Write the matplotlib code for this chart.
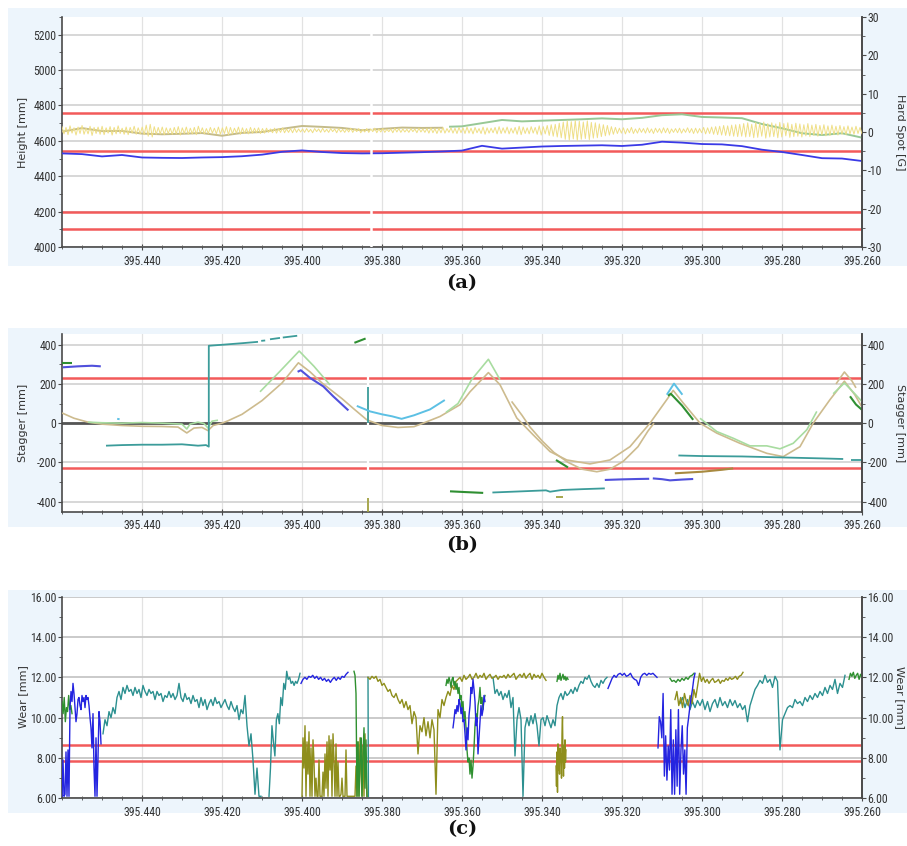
import numpy as np
import matplotlib.pyplot as plt
from matplotlib import font_manager
from matplotlib.patches import Rectangle
from matplotlib.ticker import MultipleLocator, FixedLocator

# pick a narrow face for tick numbers, like the reference
names = {f.name for f in font_manager.fontManager.ttflist}
TICK_FONT, TICK_STRETCH = 'DejaVu Sans', 'normal'
for cand in ['Liberation Sans Narrow', 'Roboto Condensed', 'Open Sans Condensed', 'Noto Sans Condensed',
             'DejaVu Sans Condensed']:
    if cand in names:
        TICK_FONT = cand
        break
else:
    if any(f.name == 'DejaVu Sans' and f.stretch == 'condensed' for f in font_manager.fontManager.ttflist):
        TICK_STRETCH = 'condensed'
plt.rcParams['font.family'] = TICK_FONT
plt.rcParams['font.stretch'] = TICK_STRETCH

# chainage [km], axis runs right to left
KM_LEFT, KM_RIGHT = 395.460, 395.260
X_TICKS = [395.440, 395.420, 395.400, 395.380, 395.360, 395.340, 395.320, 395.300, 395.280, 395.260]
GAP_KM = 395.3828

# ---------------- (a) height / hard spot ----------------
KM_A = [395.460, 395.455, 395.450, 395.445, 395.440, 395.435, 395.430, 395.425, 395.420, 395.415,
        395.410, 395.405, 395.400, 395.395, 395.390, 395.385, 395.380, 395.375, 395.370, 395.365,
        395.360, 395.355, 395.350, 395.345, 395.340, 395.335, 395.330, 395.325, 395.320, 395.315,
        395.310, 395.305, 395.300, 395.295, 395.290, 395.285, 395.280, 395.275, 395.270, 395.265,
        395.260]
HEIGHT_BLUE = [4529, 4525, 4512, 4520, 4506, 4504, 4503, 4506, 4508, 4513,
               4522, 4538, 4546, 4537, 4531, 4529, 4530, 4533, 4536, 4540,
               4545, 4572, 4556, 4562, 4568, 4571, 4573, 4575, 4571, 4578,
               4595, 4590, 4582, 4580, 4570, 4550, 4537, 4520, 4502, 4500,
               4486]
KM_A_OLIVE = KM_A[:20]
HEIGHT_OLIVE = [4652, 4672, 4655, 4656, 4641, 4637, 4640, 4644, 4629, 4645,
                4650, 4668, 4684, 4679, 4673, 4660, 4668, 4675, 4673, 4674]
KM_A_GREEN = [395.363] + KM_A[20:]
HEIGHT_GREEN = [4680, 4682, 4700, 4718, 4710, 4714, 4718, 4722, 4727, 4722, 4730,
                4745, 4750, 4735, 4732, 4728, 4695, 4671, 4643, 4633, 4643, 4618]
HARD_SPOT = [
    1.4, -0.5, 1.2, -0.7, 1.6, -0.3, 1.1, -0.8, 1.3, -0.4, 1.7, -0.6, 1.0, -0.5, 1.5, -0.9, 1.2, -0.4, 1.3, -0.6,
    1.5, -0.7, 1.1, -0.3, 1.4, -0.8, 1.2, -0.5, 1.6, -0.4, 1.0, -0.6, 1.3, -0.7, 1.2, -0.3, 1.5, -0.6, 1.1, -0.5,
    1.3, -0.7, 1.8, -1.1, 2.0, -1.3, 1.4, -0.6, 1.2, -0.5, 1.3, -0.7, 1.1, -0.4, 1.0, -0.6, 1.2, -0.5, 1.4, -0.8,
    1.1, -0.4, 1.3, -0.6, 1.0, -0.5, 1.2, -0.7, 1.5, -0.3, 1.1, -0.5, 0.9, -0.4, 1.2, -0.3, 1.0, -0.5, 1.3, -0.6,
    1.1, -0.4, 1.4, -0.7, 1.2, -0.5, 1.0, -0.3, 1.3, -0.6, 1.1, -0.4, 0.9, -0.5, 1.2, -0.3, 1.0, -0.2, 1.1, -0.4,
    0.9, -0.3, 1.0, -0.1, 0.8, -0.2, 1.0, -0.3, 0.9, -0.1, 1.1, -0.2, 0.8, -0.1, 0.9, -0.2, 1.0, -0.1, 0.8, 0.0,
    0.8, -0.1, 0.9, 0.0, 0.7, -0.2, 0.9, 0.1, 0.8, -0.1, 1.0, 0.0, 0.7, -0.1, 0.9, 0.1, 0.8, -0.2, 0.9, 0.0,
    0.7, -0.1, 0.8, 0.0, 1.0, -0.1, 0.8, 0.1, 0.9, -0.2, 0.7, 0.0, 0.9, -0.1, 0.8, 0.1, 1.0, -0.2, 0.8, 0.0,
    0.9, -0.1, 0.7, 0.1, 0.8, -0.2, 1.0, 0.0, 0.9, -0.1, 0.8, 0.0, 0.7, -0.1, 0.9, 0.1, 0.8, -0.2, 1.0, 0.0,
    0.8, -0.1, 0.9, -0.3, 1.1, -0.2, 0.9, -0.4, 1.0, -0.2, 1.2, -0.3, 0.9, -0.1, 1.1, -0.3, 1.0, -0.4, 1.2, -0.2,
    1.1, -0.4, 1.3, -0.3, 1.0, -0.5, 1.2, -0.2, 0.9, -0.4, 1.3, -0.6, 1.1, -0.3, 1.0, -0.2, 1.2, -0.5, 1.4, -0.4,
    1.1, -0.3, 1.3, -0.5, 1.0, -0.3, 1.2, -0.6, 1.5, -0.7, 1.3, -0.4, 1.1, -0.5, 1.4, -0.3, 1.2, -0.6, 1.6, -0.8,
    1.4, -0.5, 1.7, -0.9, 1.9, -1.1, 2.0, -1.3, 2.3, -1.5,
    2.6, -1.9, 2.9, -2.1, 2.7, -1.8, 3.0, -2.2, 2.8, -1.9, 2.6, -1.7, 2.9, -2.0, 2.5, -1.6, 2.4, -1.5, 2.1, -1.2,
    1.9, -1.0, 1.7, -0.8, 1.4, -0.6,
    1.2, -0.4, 1.0, -0.3, 1.1, -0.5, 0.9, -0.2, 1.2, -0.4, 0.8, -0.3, 1.0, -0.1, 0.9, -0.3, 1.1, -0.2, 0.8, -0.4,
    1.0, -0.1, 0.9, -0.3, 1.1, -0.2, 1.0, -0.4, 0.8, -0.1, 0.9, -0.2, 1.0, -0.3, 0.8, -0.1, 1.1, -0.2, 0.9, -0.4,
    1.0, -0.3, 0.9, -0.2, 1.2, -0.5, 1.1, -0.4, 1.3, -0.6, 1.4, -0.7, 1.5, -0.8, 1.7, -0.9, 1.6, -1.0, 1.8, -1.1,
    1.9, -1.2, 2.0, -1.1,
    2.2, -1.3, 2.4, -1.2, 2.0, -1.5, 2.5, -1.4, 2.3, -1.1, 2.6, -1.6, 2.2, -1.3, 2.4, -1.2, 2.1, -1.5, 2.5, -1.3,
    2.2, -1.0, 2.4, -1.4, 2.0, -1.2, 2.3, -1.1, 2.1, -1.3, 1.9, -1.0, 2.2, -1.2, 1.8, -0.9, 2.0, -1.1, 1.7, -0.8,
    1.9, -1.0, 1.6, -0.9, 1.8, -0.7, 1.5, -0.8, 1.7, -0.6, 1.4, -0.7, 1.6, -0.5, 1.3, -0.6, 1.5, -0.4, 1.2, -0.5]
LIMITS_A = [4760, 4540, 4200, 4100]

# ---------------- (b) stagger, fragments of (km, mm) ----------------
STAGGER_TAN = [[(395.4600, 52), (395.4570, 25), (395.4535, 5), (395.4500, -5), (395.4450, -12), (395.4400, -16),
                (395.4350, -17), (395.4310, -20), (395.4288, -50), (395.4270, -25), (395.4250, -22), (395.4235, -38),
                (395.4222, -12), (395.4200, 0), (395.4185, 12), (395.4150, 45), (395.4100, 115), (395.4050, 205),
                (395.4009, 308), (395.3980, 262), (395.3950, 205), (395.3900, 125), (395.3870, 72), (395.3838, 17),
                (395.3800, -12), (395.3760, -22), (395.3720, -18), (395.3697, 0), (395.3655, 34), (395.3605, 94),
                (395.3580, 160), (395.3534, 258), (395.3505, 196), (395.3463, 26), (395.3422, -60), (395.3380, -145),
                (395.3338, -188), (395.3280, -208), (395.3230, -188), (395.3180, -120), (395.3130, 0), (395.3088, 120),
                (395.3072, 167), (395.3047, 103), (395.3005, 0), (395.2963, -51), (395.2905, -103), (395.2838, -154),
                (395.2797, -171), (395.2755, -120), (395.2722, 0), (395.2680, 120), (395.2644, 214), (395.2618, 145),
                (395.2600, 82)],
               [(395.3476, 111), (395.3450, 40), (395.3430, -20), (395.3400, -90), (395.3370, -150), (395.3335, -200),
                (395.3300, -235), (395.3263, -248), (395.3230, -235), (395.3197, -195), (395.3160, -120),
                (395.3135, -40), (395.3120, 0)],
               [(395.2665, 200), (395.2644, 261), (395.2625, 215), (395.2615, 180)]]
STAGGER_LIGHT = [[(395.4535, 5), (395.4500, 2), (395.4450, 0), (395.4400, 3), (395.4350, 0), (395.4300, -5),
                  (395.4288, -30), (395.4280, -5), (395.4260, 5), (395.4245, -2), (395.4235, -25), (395.4225, 10),
                  (395.4210, 15)],
                 [(395.4105, 160), (395.4055, 265), (395.4007, 368), (395.3970, 290), (395.3930, 195)],
                 [(395.3640, 55), (395.3610, 100), (395.3576, 222), (395.3534, 326), (395.3505, 222)],
                 [(395.3005, 25), (395.2963, -43), (395.2922, -77), (395.2880, -116), (395.2838, -116),
                  (395.2805, -131), (395.2772, -103), (395.2738, -34), (395.2713, 60)],
                 [(395.2672, 150), (395.2644, 205), (395.2618, 150), (395.2600, 110)]]
STAGGER_TEAL = [[(395.4490, -115), (395.4450, -112), (395.4400, -110), (395.4350, -110), (395.4300, -108),
                 (395.4260, -115), (395.4240, -112), (395.4233, -120), (395.4233, 395), (395.4200, 400),
                 (395.4150, 408), (395.4110, 415)],
                [(395.4102, 420), (395.4092, 422)], [(395.4080, 428), (395.4055, 435)],
                [(395.4048, 437), (395.4012, 446)],
                [(395.3834, 0), (395.3834, 186)],
                [(395.3524, -354), (395.3450, -348), (395.3390, -343), (395.3380, -350), (395.3350, -341),
                 (395.3300, -337), (395.3243, -333)],
                [(395.3059, -165), (395.3000, -168), (395.2900, -170), (395.2800, -175), (395.2700, -180),
                 (395.2647, -183)],
                [(395.2628, -188), (395.2600, -188)]]
STAGGER_DKGREEN = [[(395.4600, 308), (395.4575, 308)], [(395.3869, 410), (395.3841, 432)],
                   [(395.3630, -348), (395.3590, -352), (395.3547, -356)],
                   [(395.3365, -188), (395.3335, -226)],
                   [(395.3085, 140), (395.3078, 150), (395.3050, 90), (395.3022, 17)],
                   [(395.2630, 137), (395.2615, 95), (395.2600, 68)]]
STAGGER_BLUE = [[(395.4598, 285), (395.4560, 290), (395.4525, 293), (395.4503, 290)],
                [(395.4011, 262), (395.4003, 270), (395.3980, 231), (395.3947, 188), (395.3922, 137),
                 (395.3884, 65)],
                [(395.3243, -290), (395.3200, -287), (395.3160, -285), (395.3132, -284)],
                [(395.3123, -282), (395.3100, -286), (395.3080, -292), (395.3050, -288), (395.3022, -285)]]
STAGGER_CYAN = [[(395.4462, 22), (395.4456, 20)],
                [(395.3863, 88), (395.3830, 60), (395.3800, 45), (395.3775, 35), (395.3751, 22), (395.3720, 40),
                 (395.3680, 70), (395.3643, 118)],
                [(395.3088, 145), (395.3070, 202), (395.3049, 145)]]
STAGGER_OLIVE = [[(395.3834, -380), (395.3834, -452)], [(395.3365, -379), (395.3347, -379)]]
STAGGER_BROWN = [[(395.3068, -256), (395.3000, -248), (395.2950, -238), (395.2922, -231)]]
LIMITS_B = [230, -230]

# ---------------- (c) wear, segments (km_start, km_end, samples) ----------------
WEAR_GREEN = [(395.4600, 395.4575, [10.8, 10.2, 11.0, 9.8, 10.5, 10.3, 11.1, 10.4, 10.6, 10.2]),
              (395.3870, 395.38375, [12.3, 12.1, 11.2, 6.1, 8.8, 6.1, 7.9, 9.0, 6.1, 8.2, 9.5, 6.5, 8.9, 6.1]),
              (395.3640, 395.35425, [11.6, 11.9, 11.7, 12.0, 11.8, 11.5, 11.9, 12.0, 11.6, 11.8, 11.4, 11.7, 11.2,
                                     11.5, 10.9, 11.1, 10.4, 10.8, 9.9, 10.3, 9.5, 8.4, 7.8, 8.0, 7.2, 7.9, 7.0,
                                     7.6, 8.5, 9.6, 10.2, 9.8, 10.6, 10.9, 11.5, 10.7, 11.0, 10.4, 10.9, 11.1]),
              (395.33625, 395.3335, [11.8, 12.1, 11.9, 12.2, 11.85, 12.0, 12.15, 11.9, 12.05, 11.85, 12.0, 11.9]),
              (395.3080, 395.3020, [11.95, 11.8, 11.85, 11.75, 11.9, 11.8, 11.95, 11.85, 12.0, 11.9, 12.05, 12.1,
                                    12.2]),
              (395.26325, 395.2600, [11.9, 12.2, 12.05, 12.25, 11.95, 12.1, 12.2, 11.9, 12.15, 12.0])]
WEAR_BLUE = [(395.4600, 395.45025, [6.1, 7.9, 6.1, 6.2, 8.3, 6.1, 8.4, 6.1, 10.5, 11.3, 10.8, 11.7, 11.2, 10.5,
                                    9.8, 10.2, 10.9, 11.0, 10.6, 10.4, 11.1, 10.8, 11.0, 10.5, 11.1, 10.9, 11.0,
                                    10.6, 10.0, 9.5, 8.5, 10.2, 7.5, 6.1, 9.0, 6.1, 8.0, 10.3, 9.8, 8.7]),
             (395.40025, 395.3885, [11.7, 11.9, 12.0, 11.9, 12.05, 12.0, 12.1, 11.95, 12.05, 11.9, 12.0, 11.85,
                                    11.95, 11.8, 11.9, 11.75, 11.9, 12.0, 11.85, 12.0, 11.9, 12.05, 12.0, 12.15,
                                    12.25]),
             (395.36225, 395.35425, [9.5, 9.9, 10.4, 10.2, 10.6, 10.3, 10.9, 10.7, 10.2, 10.5, 9.8, 9.9, 9.2, 8.4,
                                     9.5, 8.9, 10.1, 10.6, 11.5, 11.2, 11.9, 11.4, 10.8, 9.6, 10.0, 8.2, 9.0, 9.8,
                                     10.6, 10.1, 10.4, 11.1, 10.8]),
             (395.3235, 395.31125, [11.45, 11.7, 11.95, 12.1, 12.0, 12.15, 12.2, 12.1, 12.2, 12.05, 12.1, 12.2,
                                    12.0, 11.9, 11.85, 11.6, 12.0, 12.15, 12.2, 12.1, 12.2, 12.15, 12.2, 12.1, 12.0]),
             (395.3110, 395.30175, [8.5, 10.05, 9.8, 9.0, 11.2, 7.1, 9.1, 6.9, 8.6, 7.4, 10.4, 6.2, 8.9, 6.2, 9.4,
                                    6.6, 10.4, 6.2, 8.4, 9.6, 7.2, 8.4, 6.2, 9.5, 10.0, 10.55, 11.0, 11.4, 11.9,
                                    12.2])]
WEAR_TEAL = [(395.44975, 395.41025, [9.2, 9.9, 9.6, 10.3, 10.0, 10.5, 10.2, 11.0, 11.3, 10.9, 11.5, 11.2, 11.6,
                                     11.3, 11.4, 11.1, 11.5, 11.2, 11.4, 11.0, 11.6, 11.3, 11.1, 11.4, 11.2, 11.3,
                                     10.9, 11.3, 11.1, 11.2, 10.8, 11.1, 11.0, 11.3, 11.0, 11.2, 10.9, 11.1, 11.7,
                                     11.0, 10.8, 11.2, 10.9, 11.0, 10.7, 11.1, 10.8, 10.9, 10.5, 11.0, 10.6, 10.9,
                                     10.4, 10.7, 10.9, 10.6, 11.0, 10.7, 10.8, 10.5, 10.7, 10.9, 10.6, 10.4, 10.8,
                                     10.5, 10.3, 10.6, 9.9, 10.4, 10.2, 11.1, 9.6, 8.6, 9.2, 7.9, 6.2, 7.5, 6.1,
                                     6.1]),
             (395.40825, 395.4005, [6.1, 7.5, 9.6, 8.8, 8.1, 9.9, 10.2, 9.7, 11.0, 10.6, 11.7, 11.4, 12.3, 11.9,
                                    12.0, 11.7, 11.8, 11.6, 11.8, 11.7, 11.9, 12.2]),
             (395.3835, 395.3834, [12.0, 6.1]),
             (395.35225, 395.32375, [12.0, 11.2, 11.4, 11.1, 11.3, 10.9, 11.2, 11.0, 11.35, 10.5, 11.0, 8.1, 9.9,
                                     10.5, 9.9, 6.1, 9.5, 10.0, 9.6, 10.1, 9.7, 10.2, 9.6, 8.6, 9.9, 10.0, 9.6,
                                     10.1, 9.8, 9.5, 9.9, 9.6, 10.6, 11.0, 11.2, 10.9, 11.3, 11.1, 11.2, 11.4, 11.2,
                                     11.5, 11.3, 11.6, 11.8, 11.7, 12.0, 11.9, 12.1, 11.8, 11.6, 11.5, 11.7, 11.5,
                                     11.85, 11.7, 11.9, 12.0]),
             (395.3055, 395.26425, [10.7, 11.0, 10.5, 10.9, 10.4, 10.8, 10.5, 10.85, 10.6, 10.9, 10.4, 10.8, 10.3,
                                    10.7, 10.9, 10.5, 11.0, 10.6, 10.8, 10.5, 10.9, 10.6, 10.85, 10.5, 10.7, 10.4,
                                    10.6, 9.8, 10.6, 11.0, 11.4, 11.6, 11.85, 11.7, 12.1, 11.75, 11.9, 11.5, 12.05,
                                    11.8, 8.4, 9.9, 10.2, 10.5, 10.6, 10.5, 10.9, 10.7, 10.8, 10.6, 11.0, 10.8,
                                    11.1, 10.9, 11.2, 11.0, 11.3, 11.1, 11.5, 11.2, 11.6, 11.4, 11.9, 11.2, 11.7,
                                    11.5, 12.1])]
WEAR_OLIVE = [(395.4000, 395.38375, [6.1, 9.0, 7.5, 9.6, 6.1, 8.8, 7.2, 9.3, 6.1, 8.5, 6.1, 8.9, 7.8, 6.1, 7.0,
                                     6.1, 6.1, 7.9, 6.1, 6.1, 6.1, 7.3, 6.1, 8.2, 6.5, 8.8, 6.1, 9.1, 7.4, 8.9,
                                     6.1, 9.2, 7.9, 6.1, 8.7, 6.1, 7.8, 6.1, 6.1, 6.2, 7.0, 6.1, 6.1, 6.1, 8.4,
                                     6.1, 6.1, 6.1, 6.1, 6.1, 6.1, 6.1, 6.1, 6.1, 7.6, 6.1, 8.8, 6.1, 9.0, 7.2,
                                     6.1, 8.6, 6.1, 9.2, 7.0, 6.1]),
              (395.3835, 395.3390, [12.0, 11.9, 12.05, 11.95, 12.05, 11.8, 11.9, 11.6, 11.7, 11.5, 11.3, 11.4,
                                    11.1, 11.0, 11.2, 10.9, 10.7, 10.9, 10.5, 10.8, 10.4, 10.6, 9.7, 10.3, 10.0,
                                    8.2, 9.6, 9.3, 10.0, 9.1, 9.8, 9.0, 9.9, 9.4, 6.2, 10.4, 10.0, 10.9, 10.6,
                                    11.0, 11.3, 11.1, 11.6, 11.4, 11.8, 11.9, 12.0, 11.8, 12.1, 11.9, 12.0, 12.15,
                                    11.9, 12.0, 12.2, 11.95, 12.1, 12.0, 12.2, 11.9, 12.05, 12.15, 11.95, 12.0,
                                    12.1, 11.9, 12.05, 12.0, 12.1, 11.95, 12.15, 12.0, 12.1, 12.2, 11.9, 12.05,
                                    12.15, 12.0, 12.2, 11.95, 12.1, 12.2, 11.9, 12.15, 12.0, 12.1, 11.95, 12.2,
                                    12.0, 11.85]),
              (395.3365, 395.3340, [7.6, 6.6, 8.3, 6.3, 8.7, 7.4, 8.0, 7.2, 8.5, 7.9, 8.2, 7.0, 9.2, 10.05, 8.0,
                                    7.1, 8.6, 7.5, 8.9, 7.8, 8.4]),
              (395.30675, 395.28975, [10.9, 11.3, 10.6, 11.0, 10.5, 11.2, 10.8, 10.6, 11.1, 10.7, 11.4, 11.0,
                                      11.6, 12.2, 11.8, 12.0, 11.75, 11.9, 11.7, 11.85, 11.95, 11.75, 11.8, 11.9,
                                      11.7, 11.85, 11.8, 11.95, 11.85, 12.0, 11.9, 11.95, 12.05, 11.9, 12.05,
                                      12.1, 12.25])]
LIMITS_C = [8.65, 7.85]

# colours
RED = '#f25a5a'
BG = '#edf5fc'
GRID = '#d4d4d4'
AX_COL = '#4a4a4a'

fig = plt.figure(figsize=(9.07, 8.46), dpi=100)
W, H = 907, 846


def frac(x0, y0, x1, y1):
    return [x0 / W, 1 - y1 / H, (x1 - x0) / W, (y1 - y0) / H]


for y0, y1 in [(8, 266), (328, 527), (590, 813)]:
    r = frac(8, y0, 907, y1)
    fig.add_artist(Rectangle((r[0], r[1]), r[2], r[3], transform=fig.transFigure,
                             facecolor=BG, edgecolor='none', zorder=-10))


def style(ax, ylim, major, minor, fmt, label, rlabel, ypix):
    ax.set_xlim(KM_LEFT, KM_RIGHT)
    ax.set_ylim(*ylim)
    ax.xaxis.set_major_locator(FixedLocator(X_TICKS))
    ax.xaxis.set_minor_locator(MultipleLocator(0.005))
    ax.set_xticklabels([f'{t:.3f}' for t in X_TICKS])
    ax.yaxis.set_major_locator(MultipleLocator(major))
    ax.yaxis.set_minor_locator(MultipleLocator(minor))
    ax.yaxis.set_major_formatter(plt.FuncFormatter(lambda v, p: fmt.format(v)))
    ax.grid(True, axis='y', color=GRID, lw=1.3, zorder=0)
    ax.grid(True, axis='x', color='#e2e2e2', lw=0.9, zorder=0)
    for s in ['left', 'bottom', 'right']:
        ax.spines[s].set_color(AX_COL)
        ax.spines[s].set_linewidth(1.2)
    ax.spines['top'].set_visible(False)
    ax.tick_params(axis='x', which='both', direction='inout', colors=AX_COL, labelcolor='#333333',
                   labelsize=8.5, pad=3)
    ax.tick_params(axis='x', which='major', length=5)
    ax.tick_params(axis='x', which='minor', length=3)
    ax.tick_params(axis='y', which='major', direction='out', length=3, colors=AX_COL,
                   labelcolor='#333333', labelsize=8.5, pad=1)
    ax.tick_params(axis='y', which='minor', direction='out', length=2, colors=AX_COL)
    yc = 1 - ypix / H
    fig.text(23 / W, yc, label, rotation=90, ha='center', va='center', fontsize=8, color='#333333',
             family='DejaVu Sans', stretch='normal')
    fig.text(900 / W, yc, rlabel, rotation=270, ha='center', va='center', fontsize=8, color='#333333',
             family='DejaVu Sans', stretch='normal')


def right_axis(ax, ylim, major, minor, fmt):
    ar = ax.twinx()
    ar.set_ylim(*ylim)
    ar.yaxis.set_major_locator(MultipleLocator(major))
    ar.yaxis.set_minor_locator(MultipleLocator(minor))
    ar.yaxis.set_major_formatter(plt.FuncFormatter(lambda v, p: fmt.format(v)))
    for s in ['top', 'left', 'bottom']:
        ar.spines[s].set_visible(False)
    ar.spines['right'].set_color(AX_COL)
    ar.spines['right'].set_linewidth(1.2)
    ar.tick_params(axis='y', which='major', direction='out', length=3, colors=AX_COL,
                   labelcolor='#333333', labelsize=8.5, pad=1)
    ar.tick_params(axis='y', which='minor', direction='out', length=2, colors=AX_COL)
    return ar


def fragments(ax, frags, color, lw=1.2, alpha=1.0, z=3):
    for f in frags:
        k, v = zip(*f)
        ax.plot(k, v, color=color, lw=lw, alpha=alpha, zorder=z, solid_capstyle='butt')


def segments(ax, segs, color, lw=1.0, z=3):
    for k0, k1, vals in segs:
        ax.plot(np.linspace(k0, k1, len(vals)), vals, color=color, lw=lw, zorder=z)


# ---- (a)
ax_a = fig.add_axes(frac(62, 17, 862, 247))
style(ax_a, (4000, 5300), 200, 100, '{:.0f}', 'Height [mm]', 'Hard Spot [G]', 132)
ar_a = right_axis(ax_a, (-30, 30), 10, 5, '{:.0f}')
for lim in LIMITS_A:
    ax_a.axhline(lim, color=RED, lw=1.8, zorder=2)
ax_a.plot(KM_A_OLIVE, HEIGHT_OLIVE, color='#c4bb8a', lw=1.4, zorder=3)
ax_a.plot(KM_A_GREEN, HEIGHT_GREEN, color='#98c896', lw=1.4, zorder=3)
ax_a.plot(KM_A, HEIGHT_BLUE, color='#3a3ae6', lw=1.3, zorder=4)
ar_a.plot(np.linspace(KM_LEFT, KM_RIGHT, len(HARD_SPOT)), HARD_SPOT, color='#efdf86', lw=0.7, zorder=3)
ax_a.axvline(GAP_KM, color='white', lw=1.8, zorder=5)

# ---- (b)
ax_b = fig.add_axes(frac(62, 334, 862, 511.7))
style(ax_b, (-452, 455), 200, 100, '{:.0f}', 'Stagger [mm]', 'Stagger [mm]', 423)
right_axis(ax_b, (-452, 455), 200, 100, '{:.0f}')
for lim in LIMITS_B:
    ax_b.axhline(lim, color=RED, lw=1.8, zorder=2)
ax_b.axhline(0, color='#555555', lw=2.0, zorder=2)
ax_b.axvline(GAP_KM + 0.0006, color='white', lw=1.6, zorder=2.5)
fragments(ax_b, STAGGER_TAN, '#cdbb8e', lw=1.2)
fragments(ax_b, STAGGER_LIGHT, '#a8dca0', lw=1.2)
fragments(ax_b, STAGGER_TEAL, '#3c9c9a', lw=1.3)
fragments(ax_b, STAGGER_DKGREEN, '#2f8f32', lw=1.5)
fragments(ax_b, STAGGER_BLUE, '#5050dc', lw=1.5)
fragments(ax_b, STAGGER_CYAN, '#5cc0e4', lw=1.4)
fragments(ax_b, STAGGER_OLIVE, '#a0a040', lw=1.3)
fragments(ax_b, STAGGER_BROWN, '#a88a40', lw=1.5)

# ---- (c)
ax_c = fig.add_axes(frac(62, 596.7, 862, 798.3))
style(ax_c, (6, 16), 2, 1, '{:.2f}', 'Wear [mm]', 'Wear [mm]', 697)
right_axis(ax_c, (6, 16), 2, 1, '{:.2f}')
ax_c.grid(True, axis='y', color='#c6c6c6', lw=1.3)
for lim in LIMITS_C:
    ax_c.axhline(lim, color=RED, lw=1.8, zorder=2)
segments(ax_c, WEAR_TEAL, '#2c9090', lw=1.0)
segments(ax_c, WEAR_OLIVE, '#8e8e1c', lw=1.0)
segments(ax_c, WEAR_GREEN, '#2f9030', lw=1.0)
segments(ax_c, WEAR_BLUE, '#2424e0', lw=1.0)

for label, ypix in [('(a)', 283), ('(b)', 545), ('(c)', 829)]:
    fig.text(462 / W, 1 - ypix / H, label, ha='center', va='center', fontsize=14,
             fontweight='bold', family='DejaVu Serif', stretch='normal', color='#111111')

fig.savefig('out.png', dpi=100, facecolor='white')
